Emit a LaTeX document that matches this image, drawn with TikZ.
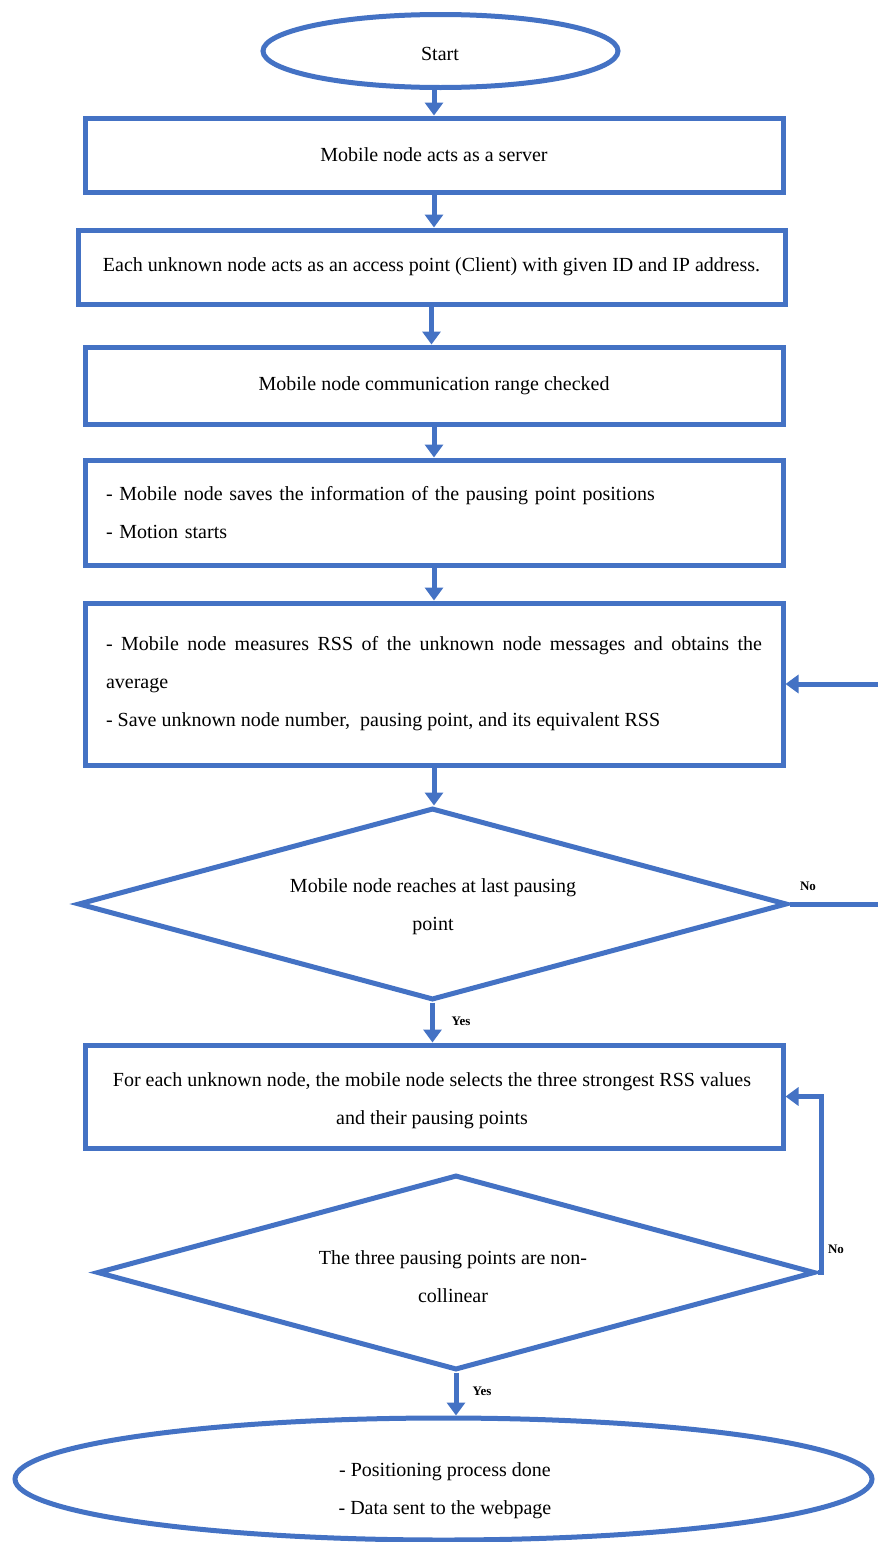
\documentclass[tikz,border=0pt]{standalone}
\usepackage{fontspec}
\setmainfont{Liberation Serif}
\usetikzlibrary{shapes.geometric,arrows.meta}
\definecolor{fblue}{RGB}{68,114,196}
\begin{document}
\begin{tikzpicture}[x=1pt,y=-1pt,
  txt/.style={font=\fontsize{20}{38}\selectfont},
  shapeline/.style={draw=fblue,line width=5pt},
  procbox/.style={shapeline,rectangle,inner sep=0pt,txt},
  flow/.style={draw=fblue,line width=5pt,-{Triangle[length=13pt,width=18pt]}},
  lbl/.style={font=\fontsize{13}{15}\selectfont\bfseries}
]
\useasboundingbox (0,0) rectangle (878,1542);
\fill[white] (0,0) rectangle (878,1542);

\node[shapeline,ellipse,minimum width=355pt,minimum height=73pt,inner sep=0pt] (start) at (440.5,51) {};
\node[txt] (startt) at (440,54) {Start};
\node[procbox,minimum width=698pt,minimum height=74pt] (b1) at (434,155) {Mobile node acts as a server};
\node[procbox,minimum width=707pt,minimum height=74pt] (b2) at (431.5,267) {Each unknown node acts as an access point (Client) with given ID and IP address.};
\node[procbox,minimum width=698pt,minimum height=77pt] (b3) at (434,385.5) {Mobile node communication range checked};
\node[procbox,minimum width=698pt,minimum height=105pt,text width=656pt,align=left] (b4) at (434,512.5) {- Mobile node saves the information of the pausing point positions\\- Motion starts};
\node[procbox,minimum width=698pt,minimum height=162pt,text width=656pt,align=justify] (b5) at (434,684) {- Mobile node measures RSS of the unknown node messages and obtains the\linebreak average\\- Save unknown node number, \ pausing point, and its equivalent RSS};
\node[shapeline,diamond,minimum width=709pt,minimum height=192pt,inner sep=0pt] (d1) at (432.5,904) {};
\node[txt,align=center] (d1t) at (433,907) {Mobile node reaches at last pausing\\point};
\node[procbox,minimum width=698pt,minimum height=103pt] (b6) at (434,1096.5) {};
\node[txt,align=center] (b6t) at (432,1101) {For each unknown node, the mobile node selects the three strongest RSS values\\and their pausing points};
\node[shapeline,diamond,minimum width=718pt,minimum height=195pt,inner sep=0pt] (d2) at (456,1272.5) {};
\node[txt,align=center] (d2t) at (453,1277) {The three pausing points are non-\\collinear};
\node[shapeline,ellipse,minimum width=857pt,minimum height=122pt,inner sep=0pt] (end) at (443.5,1479) {};
\node[txt,align=center] (endt) at (445,1491) {- Positioning process done\\- Data sent to the webpage};

\draw[flow] (start.south -| b1.north) -- (b1.north);
\draw[flow] (b1.south) -- (b1.south |- b2.north);
\draw[flow] (b2.south) -- (b2.south |- b3.north);
\draw[flow] (b3.south) -- (b4.north);
\draw[flow] (b4.south) -- (b5.north);
\draw[flow] (b5.south) -- (b5.south |- d1.north);
\draw[flow] (d1.south) -- (d1.south |- b6.north);
\draw[flow] (d1.east) -- (905,904) |- (b5.east);
\draw[flow] (d2.east) -- (821,1272.5) |- (b6.east);
\draw[flow] (d2.south) -- (d2.south |- end.north);

\node[lbl] (no1) at (808,886) {No};
\node[lbl] (yes1) at (461,1021) {Yes};
\node[lbl] (no2) at (836,1249) {No};
\node[lbl] (yes2) at (482,1391) {Yes};
\end{tikzpicture}
\end{document}
